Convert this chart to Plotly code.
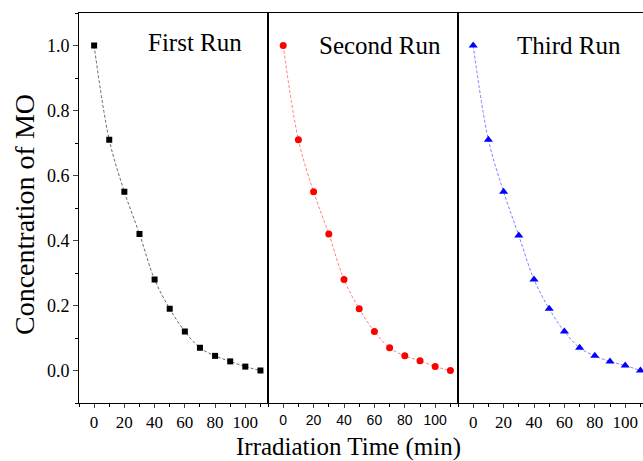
import plotly.graph_objects as go

time = [0, 10, 20, 30, 40, 50, 60, 70, 80, 90, 100, 110]
first_run = [1.0, 0.71, 0.55, 0.42, 0.28, 0.19, 0.12, 0.07, 0.045, 0.028, 0.012, 0.0]
second_run = [1.0, 0.71, 0.55, 0.42, 0.28, 0.19, 0.12, 0.07, 0.045, 0.03, 0.012, 0.0]
third_run = [1.0, 0.71, 0.55, 0.415, 0.28, 0.19, 0.12, 0.07, 0.045, 0.028, 0.015, 0.0]
run_labels = ["First Run", "Second Run", "Third Run"]
x_ticks = [0, 20, 40, 60, 80, 100]
y_ticks = [0.0, 0.2, 0.4, 0.6, 0.8, 1.0]

SERIF = "Liberation Serif"
fig = go.Figure()

fig.add_trace(go.Scatter(x=time, y=first_run, mode="lines+markers", xaxis="x", yaxis="y",
                         line=dict(color="#444444", width=0.8, dash="3px,2px", shape="spline"),
                         marker=dict(symbol="square", size=6, color="black")))
fig.add_trace(go.Scatter(x=time, y=second_run, mode="lines+markers", xaxis="x2", yaxis="y2",
                         line=dict(color="#ff6060", width=0.8, dash="3px,2px", shape="spline"),
                         marker=dict(symbol="circle", size=7, color="red")))
fig.add_trace(go.Scatter(x=time, y=third_run, mode="lines+markers", xaxis="x3", yaxis="y3",
                         line=dict(color="#6060ff", width=0.8, dash="3px,2px", shape="spline"),
                         marker=dict(symbol="triangle-up", size=8, color="blue")))

W = 564.0
H = 390.0
d1 = 189 / W
d2 = 379 / W

xcommon = dict(tickmode="array", tickvals=x_ticks, ticks="outside", ticklen=4,
               showline=True, linecolor="black", linewidth=1, mirror=True,
               showgrid=False, zeroline=False,
               minor=dict(dtick=10, ticks="outside", ticklen=3, tickcolor="black"))
ycommon = dict(range=[-0.1, 1.1], showline=True, linecolor="black", linewidth=1,
               showgrid=False, zeroline=False)

fig.update_layout(
    width=643, height=461,
    margin=dict(l=79, r=0, t=13, b=58),
    paper_bgcolor="white", plot_bgcolor="white",
    showlegend=False,
    xaxis=dict(domain=[0, d1], range=[-10, 115], anchor="y",
               tickfont=dict(family=SERIF, size=17, color="black"), **xcommon),
    xaxis2=dict(domain=[d1, d2], range=[-10, 115], anchor="y2",
                tickfont=dict(family="Liberation Sans", size=14, color="black"), **xcommon),
    xaxis3=dict(domain=[d2, 1], range=[-10, 111.7], anchor="y3",
                tickfont=dict(family=SERIF, size=17, color="black"), **xcommon),
    yaxis=dict(anchor="x", tickmode="array", tickvals=y_ticks,
               ticktext=["0.0", "0.2", "0.4", "0.6", "0.8", "1.0"],
               ticks="outside", ticklen=5, mirror=True,
               tickfont=dict(family=SERIF, size=18, color="black"),
               minor=dict(dtick=0.1, ticks="outside", ticklen=3, tickcolor="black"),
               **ycommon),
    yaxis2=dict(anchor="x2", showticklabels=False, ticks="", mirror=True, **ycommon),
    yaxis3=dict(anchor="x3", showticklabels=False, ticks="", mirror=False, **ycommon),
)

annos = [
    dict(text=run_labels[0], x=67, y=1.01, xref="x", yref="y"),
    dict(text=run_labels[1], x=64, y=1.0, xref="x2", yref="y2"),
    dict(text=run_labels[2], x=63, y=1.0, xref="x3", yref="y3"),
]
for a in annos:
    fig.add_annotation(showarrow=False, xanchor="center", yanchor="middle",
                       font=dict(family=SERIF, size=25, color="black"), **a)

fig.add_annotation(text="Concentration of MO", xref="paper", yref="paper",
                   x=(25 - 79) / W, y=(403 - 215) / H, textangle=-90, showarrow=False,
                   xanchor="center", yanchor="middle",
                   font=dict(family=SERIF, size=28, color="black"))
fig.add_annotation(text="Irradiation Time (min)", xref="paper", yref="paper",
                   x=(348 - 79) / W, y=-(447 - 403) / H, showarrow=False,
                   xanchor="center", yanchor="middle",
                   font=dict(family=SERIF, size=25, color="black"))

fig.write_html("out.html")
